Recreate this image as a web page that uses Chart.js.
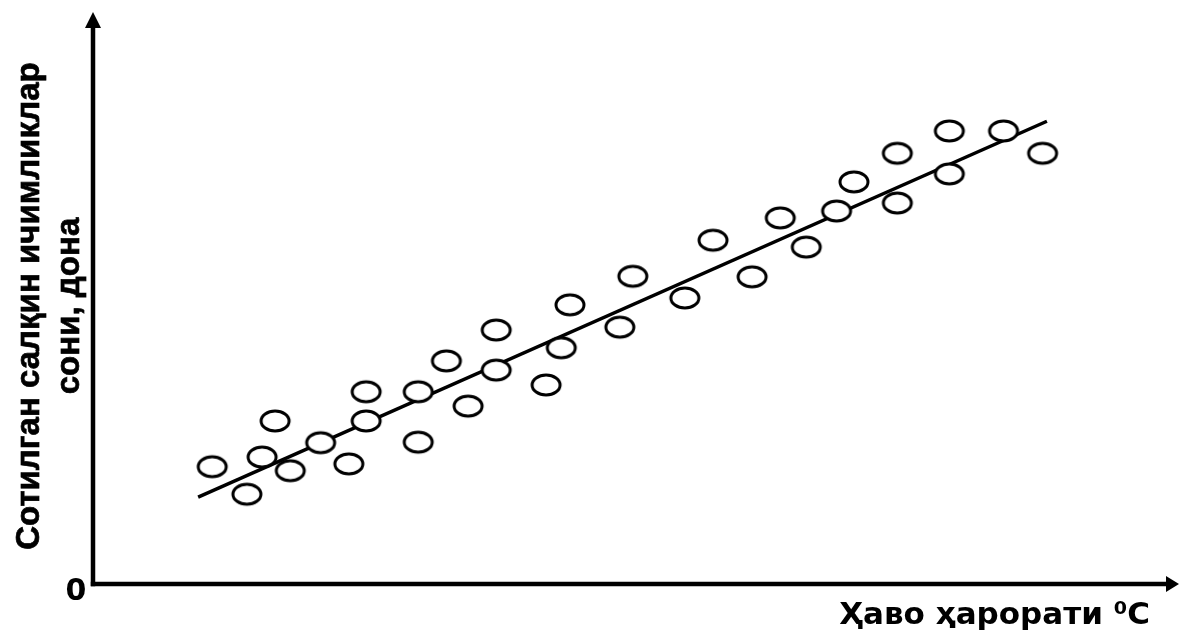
<!DOCTYPE html>
<html>
<head>
<meta charset="utf-8">
<script src="https://cdn.jsdelivr.net/npm/chart.js@4.4.1/dist/chart.umd.min.js"></script>
<style>
    html, body { margin: 0; padding: 0; background: #fff; }
    #wrap { width: 1179px; height: 633px; position: relative; }
</style>
</head>
<body>
<div id="wrap"><canvas id="scatter"></canvas></div>
<script>
// harorat (x) va sotuv (y) qiymatlari, rasmdan o'qilgan
const harorat = [5.5, 7.1, 7.8, 8.4, 9.1, 10.5, 11.8, 12.6, 12.6, 15.0, 15.0,
    16.3, 17.3, 18.6, 18.6, 20.9, 21.6, 22.0, 24.3, 24.9, 27.3, 28.6,
    30.4, 31.7, 32.9, 34.3, 35.1, 37.1, 37.1, 39.5, 39.5, 42.0, 43.8];
const sotuv = [20.5, 15.7, 22.2, 28.5, 19.8, 24.7, 21.0, 28.5, 33.6, 33.6, 24.8,
    39.0, 31.1, 44.4, 37.4, 34.8, 41.3, 48.8, 44.9, 53.8, 50.0, 60.1,
    53.7, 64.0, 58.9, 65.2, 70.3, 75.3, 66.6, 79.2, 71.7, 79.2, 75.3];

// trend chizig'i
const trendX = [4.85, 44.0];
const trendY = [15.2, 80.9];

const xMax = 50;
const yMax = 100;

const yNomi = ['Сотилган салқин ичимликлар', 'сони, дона'];
const xNomi = 'Ҳаво ҳарорати ⁰С';

function ovalYasash() {
    const c = document.createElement('canvas');
    c.width = 36;
    c.height = 28;
    const g = c.getContext('2d');
    g.beginPath();
    g.ellipse(18, 14, 14, 10, 0, 0, Math.PI * 2);
    g.fillStyle = '#fff';
    g.fill();
    g.lineWidth = 3;
    g.strokeStyle = '#000';
    g.stroke();
    return c;
}

const oqlar = {
    id: 'oqlar',
    beforeDatasetsDraw(chart) {
        const { ctx, chartArea } = chart;
        const x0 = chart.scales.x.getPixelForValue(0);
        const y0 = chart.scales.y.getPixelForValue(0);
        ctx.save();
        ctx.strokeStyle = '#000';
        ctx.fillStyle = '#000';
        ctx.lineWidth = 4.5;
        ctx.lineCap = 'butt';
        // y o'qi
        ctx.beginPath();
        ctx.moveTo(x0, y0 + 2.2);
        ctx.lineTo(x0, chartArea.top + 12);
        ctx.stroke();
        ctx.beginPath();
        ctx.moveTo(x0, chartArea.top);
        ctx.lineTo(x0 - 8, chartArea.top + 16);
        ctx.lineTo(x0 + 8, chartArea.top + 16);
        ctx.closePath();
        ctx.fill();
        // x o'qi
        const right = chartArea.right + 2;
        ctx.beginPath();
        ctx.moveTo(x0 - 2.2, y0);
        ctx.lineTo(right - 10, y0);
        ctx.stroke();
        ctx.beginPath();
        ctx.moveTo(right, y0);
        ctx.lineTo(right - 13, y0 - 8);
        ctx.lineTo(right - 13, y0 + 8);
        ctx.closePath();
        ctx.fill();

        // matnlar
        ctx.font = 'bold 30px "DejaVu Sans"';
        ctx.textBaseline = 'alphabetic';
        ctx.textAlign = 'center';
        ctx.fillText('0', 76, 600);
        ctx.font = 'bold 31px "DejaVu Sans"';
        ctx.textAlign = 'right';
        ctx.fillText(xNomi, 1150, 624);

        ctx.font = 'bold 33px "Liberation Sans"';
        ctx.textAlign = 'center';
        ctx.textBaseline = 'middle';
        ctx.lineWidth = 0.7;
        ctx.translate(0, 306);
        ctx.rotate(-Math.PI / 2);
        ctx.fillText(yNomi[0], 0, 30);
        ctx.strokeText(yNomi[0], 0, 30);
        ctx.fillText(yNomi[1], 0, 70);
        ctx.strokeText(yNomi[1], 0, 70);
        ctx.restore();
    }
};

const nuqtalar = harorat.map((h, i) => ({ x: h, y: sotuv[i] }));
const chiziq = trendX.map((t, i) => ({ x: t, y: trendY[i] }));

const ctx = document.getElementById('scatter').getContext('2d');
new Chart(ctx, {
    type: 'scatter',
    data: {
        datasets: [{
            label: 'trend',
            type: 'line',
            data: chiziq,
            borderColor: '#000',
            borderWidth: 3.5,
            pointRadius: 0,
            fill: false,
            order: 2
        }, {
            label: 'sotuv',
            data: nuqtalar,
            pointStyle: ovalYasash(),
            pointRadius: 15,
            order: 1
        }]
    },
    plugins: [oqlar],
    options: {
        responsive: true,
        maintainAspectRatio: false,
        animation: false,
        layout: {
            autoPadding: false,
            padding: { left: 93, right: 2, top: 12, bottom: 49 }
        },
        plugins: {
            legend: { display: false },
            tooltip: { enabled: false }
        },
        scales: {
            x: { type: 'linear', min: 0, max: xMax, display: false },
            y: { type: 'linear', min: 0, max: yMax, display: false }
        }
    }
});
</script>
</body>
</html>
